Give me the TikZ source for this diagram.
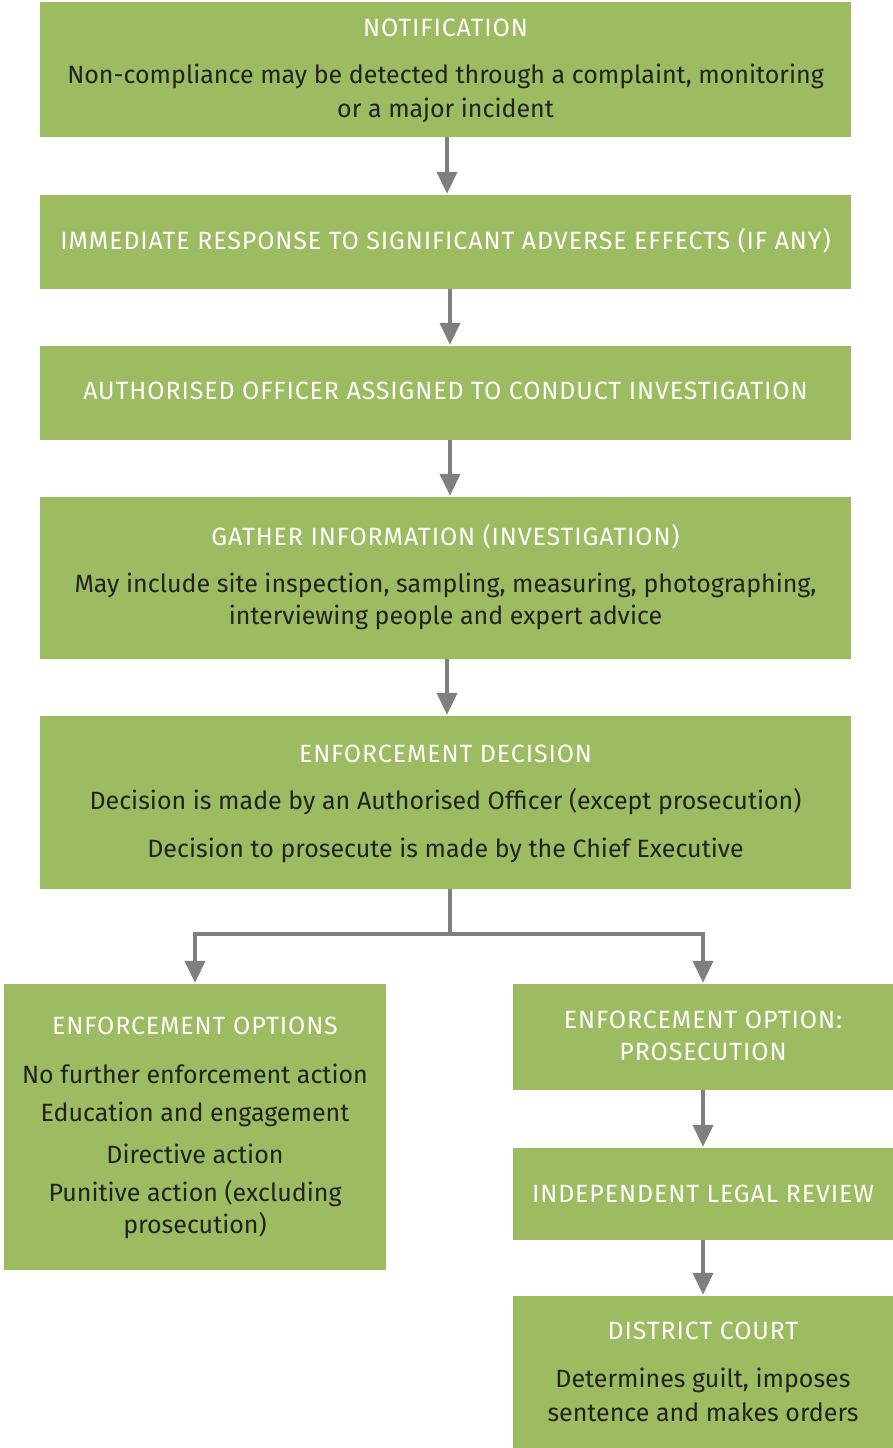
\documentclass[tikz,border=0pt]{standalone}
\usepackage{fontspec}
\setmainfont{Fira Sans}
\newfontfamily\ttlfont[LetterSpace=3.5]{Fira Sans}
\usetikzlibrary{arrows.meta}
\definecolor{boxgreen}{HTML}{9DBB61}
\definecolor{arrgrey}{HTML}{7F7F7F}
\definecolor{bodytxt}{HTML}{222222}
\tikzset{
  box/.style={fill=boxgreen, draw=none, inner sep=0pt, rectangle},
  ttl/.style={text=white, inner sep=0pt, font=\ttlfont\fontsize{25}{28}\selectfont},
  bdy/.style={text=bodytxt, inner sep=0pt, font=\fontsize{25}{28}\selectfont},
  conn/.style={draw=arrgrey, line width=4pt},
  arr/.style={conn, -{Triangle[width=20pt,length=22pt]}, shorten >=1pt},
}
\begin{document}
\begin{tikzpicture}[x=1pt,y=-1pt]
\useasboundingbox (0,0) rectangle (893,1448);
% boxes
\node[box, minimum width=811pt, minimum height=135pt] (b1) at (445.5,69.5) {};
\node[box, minimum width=811pt, minimum height=94pt] (b2) at (445.5,242) {};
\node[box, minimum width=811pt, minimum height=94pt] (b3) at (445.5,393) {};
\node[box, minimum width=811pt, minimum height=162pt] (b4) at (445.5,578) {};
\node[box, minimum width=811pt, minimum height=173pt] (b5) at (445.5,802.5) {};
\node[box, minimum width=382pt, minimum height=286pt] (b6) at (195,1127) {};
\node[box, minimum width=380pt, minimum height=106pt] (b7) at (703,1037) {};
\node[box, minimum width=380pt, minimum height=92pt] (b8) at (703,1194) {};
\node[box, minimum width=380pt, minimum height=152pt] (b9) at (703,1372) {};
% texts
\node[ttl] (t1) at (445.5,28) {NOTIFICATION};
\node[bdy] (t1a) at (445.5,76) {Non-compliance may be detected through a complaint, monitoring};
\node[bdy] (t1b) at (445.5,110) {or a major incident};
\node[ttl] (t2) at (445.5,241) {IMMEDIATE RESPONSE TO SIGNIFICANT ADVERSE EFFECTS (IF ANY)};
\node[ttl] (t3) at (445.5,391) {AUTHORISED OFFICER ASSIGNED TO CONDUCT INVESTIGATION};
\node[ttl] (t4) at (445.5,537) {GATHER INFORMATION (INVESTIGATION)};
\node[bdy] (t4a) at (445.5,585) {May include site inspection, sampling, measuring, photographing,};
\node[bdy] (t4b) at (445.5,617) {interviewing people and expert advice};
\node[ttl] (t5) at (445.5,754) {ENFORCEMENT DECISION};
\node[bdy] (t5a) at (445.5,802) {Decision is made by an Authorised Officer (except prosecution)};
\node[bdy] (t5b) at (445.5,850) {Decision to prosecute is made by the Chief Executive};
\node[ttl] (t6) at (195,1026) {ENFORCEMENT OPTIONS};
\node[bdy] (t6a) at (195,1074) {No further enforcement action};
\node[bdy] (t6b) at (195,1114) {Education and engagement};
\node[bdy] (t6c) at (195,1154) {Directive action};
\node[bdy] (t6d) at (195,1194) {Punitive action (excluding};
\node[bdy] (t6e) at (195,1226) {prosecution)};
\node[ttl] (t7a) at (703,1020) {ENFORCEMENT OPTION:};
\node[ttl] (t7b) at (703,1052) {PROSECUTION};
\node[ttl] (t8) at (703,1194) {INDEPENDENT LEGAL REVIEW};
\node[ttl] (t9) at (703,1331) {DISTRICT COURT};
\node[bdy] (t9a) at (703,1380) {Determines guilt, imposes};
\node[bdy] (t9b) at (703,1412) {sentence and makes orders};
% connectors
\draw[arr] (b1.south -| 447,0) -- (b2.north -| 447,0);
\draw[arr] (b2.south -| 450,0) -- (b3.north -| 450,0);
\draw[arr] (b3.south -| 450,0) -- (b4.north -| 450,0);
\draw[arr] (b4.south -| 447,0) -- (b5.north -| 447,0);
\coordinate (j) at (450,934);
\draw[conn] (b5.south -| j) -- (j);
\draw[arr] (j) -| (b6.north);
\draw[arr] (j) -| (b7.north);
\draw[arr] (b7.south) -- (b8.north);
\draw[arr] (b8.south) -- (b9.north);
\end{tikzpicture}
\end{document}
